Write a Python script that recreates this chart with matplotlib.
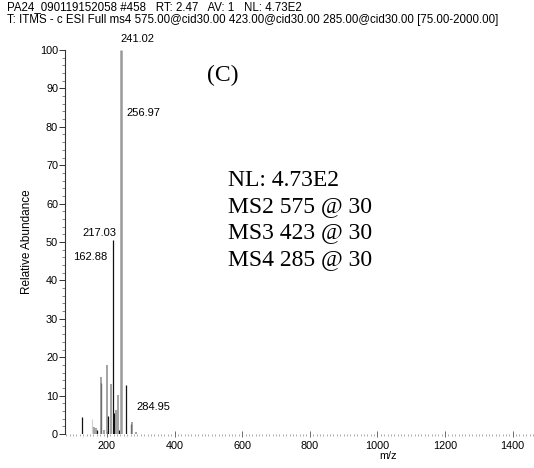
import matplotlib
matplotlib.use("Agg")
import matplotlib.pyplot as plt
from matplotlib.ticker import MultipleLocator

# ---- data ----
mz = [125.0, 155.0, 162.88, 168.0, 172.0, 181.3, 183.2, 190.0, 201.0, 204.0,
      213.0, 217.03, 221.0, 226.6, 232.5, 236.0, 241.02, 256.97, 270.0, 273.0, 284.95]
intensity = [4.5, 4.0, 1.8, 1.5, 1.0, 13.2, 14.9, 1.0, 18.0, 4.8,
             13.0, 50.5, 5.5, 6.3, 10.2, 1.0, 100.0, 12.7, 2.5, 3.2, 0.6]
shade = ['k', 'light', 'gray', 'gray', 'k', 'k', 'gray', 'gray', 'gray', 'k',
         'gray', 'k', 'k', 'gray', 'gray', 'k', 'wide', 'k', 'k', 'gray', 'gray']

label_text = ["241.02", "256.97", "217.03", "162.88", "284.95"]
label_x = [239.0, 258.0, 178.0, 150.0, 286.0]
label_y = [102.8, 83.6, 52.3, 46.0, 7.0]
label_ha = ['left', 'left', 'center', 'center', 'left']

header1 = "PA24_090119152058 #458   RT: 2.47   AV: 1   NL: 4.73E2"
header2 = "T: ITMS - c ESI Full ms4 575.00@cid30.00 423.00@cid30.00 285.00@cid30.00 [75.00-2000.00]"
panel = "(C)"
info_lines = ["NL: 4.73E2", "MS2 575 @ 30", "MS3 423 @ 30", "MS4 285 @ 30"]
xticks = [200, 400, 600, 800, 1000, 1200, 1400]
yticks = [0, 10, 20, 30, 40, 50, 60, 70, 80, 90, 100]

W, H = 534, 468
fig = plt.figure(figsize=(W / 100, H / 100), dpi=100)
plt.rcParams['font.family'] = ['Liberation Sans', 'DejaVu Sans']

ax = fig.add_axes([65 / W, (H - 434) / H, (W - 65) / W, (434 - 50) / H])
ax.set_xlim(76, 1463)
ax.set_ylim(0, 100)

style = {'k': ('#111111', 0.9), 'gray': ('#8a8a8a', 1.1),
         'light': ('#d0d0d0', 0.8), 'wide': ('#9a9a9a', 1.8)}
for m, i, s in zip(mz, intensity, shade):
    c, lw = style[s]
    ax.vlines(m, 0, i, colors=c, linewidth=lw)

for t, x, y, ha in zip(label_text, label_x, label_y, label_ha):
    ax.text(x, y, t, ha=ha, va='center', fontsize=8, clip_on=False)

for sp in ['top', 'right', 'bottom']:
    ax.spines[sp].set_visible(False)
ax.spines['left'].set_linewidth(0.8)
ax.spines['left'].set_color('#333333')

ax.set_xticks(xticks)
ax.set_xticklabels([str(v) for v in xticks])
ax.xaxis.set_minor_locator(MultipleLocator(10))
ax.set_yticks(yticks)
ax.set_yticklabels([str(v) for v in yticks])
ax.yaxis.set_minor_locator(MultipleLocator(2))
ax.tick_params(axis='x', which='major', length=4, width=0.6, color='#555555',
               labelsize=7.8, pad=3, direction='inout')
ax.tick_params(axis='x', which='minor', length=1.5, width=0.5, color='#888888')
ax.tick_params(axis='y', which='major', length=4, width=0.7, color='#333333',
               labelsize=7.8, pad=1)
ax.tick_params(axis='y', which='minor', length=2.5, width=0.5, color='#555555')

ax.set_ylabel("Relative Abundance", fontsize=8.5, labelpad=5)
fig.text(388 / W, 1 - 456 / H, "m/z", ha='center', va='center', fontsize=7.8)

fig.text(7 / W, 1 - 7.5 / H, header1, ha='left', va='center', fontsize=8.3)
fig.text(7 / W, 1 - 20 / H, header2, ha='left', va='center', fontsize=8.3)

serif = ['Liberation Serif', 'DejaVu Serif']
fig.text(207 / W, 1 - 75 / H, panel, ha='left', va='center', fontsize=17, family=serif)
for k, line in enumerate(info_lines):
    fig.text(228 / W, 1 - (180 + 26.5 * k) / H, line, ha='left', va='center',
             fontsize=17, family=serif)

fig.savefig("out.png", dpi=100)
